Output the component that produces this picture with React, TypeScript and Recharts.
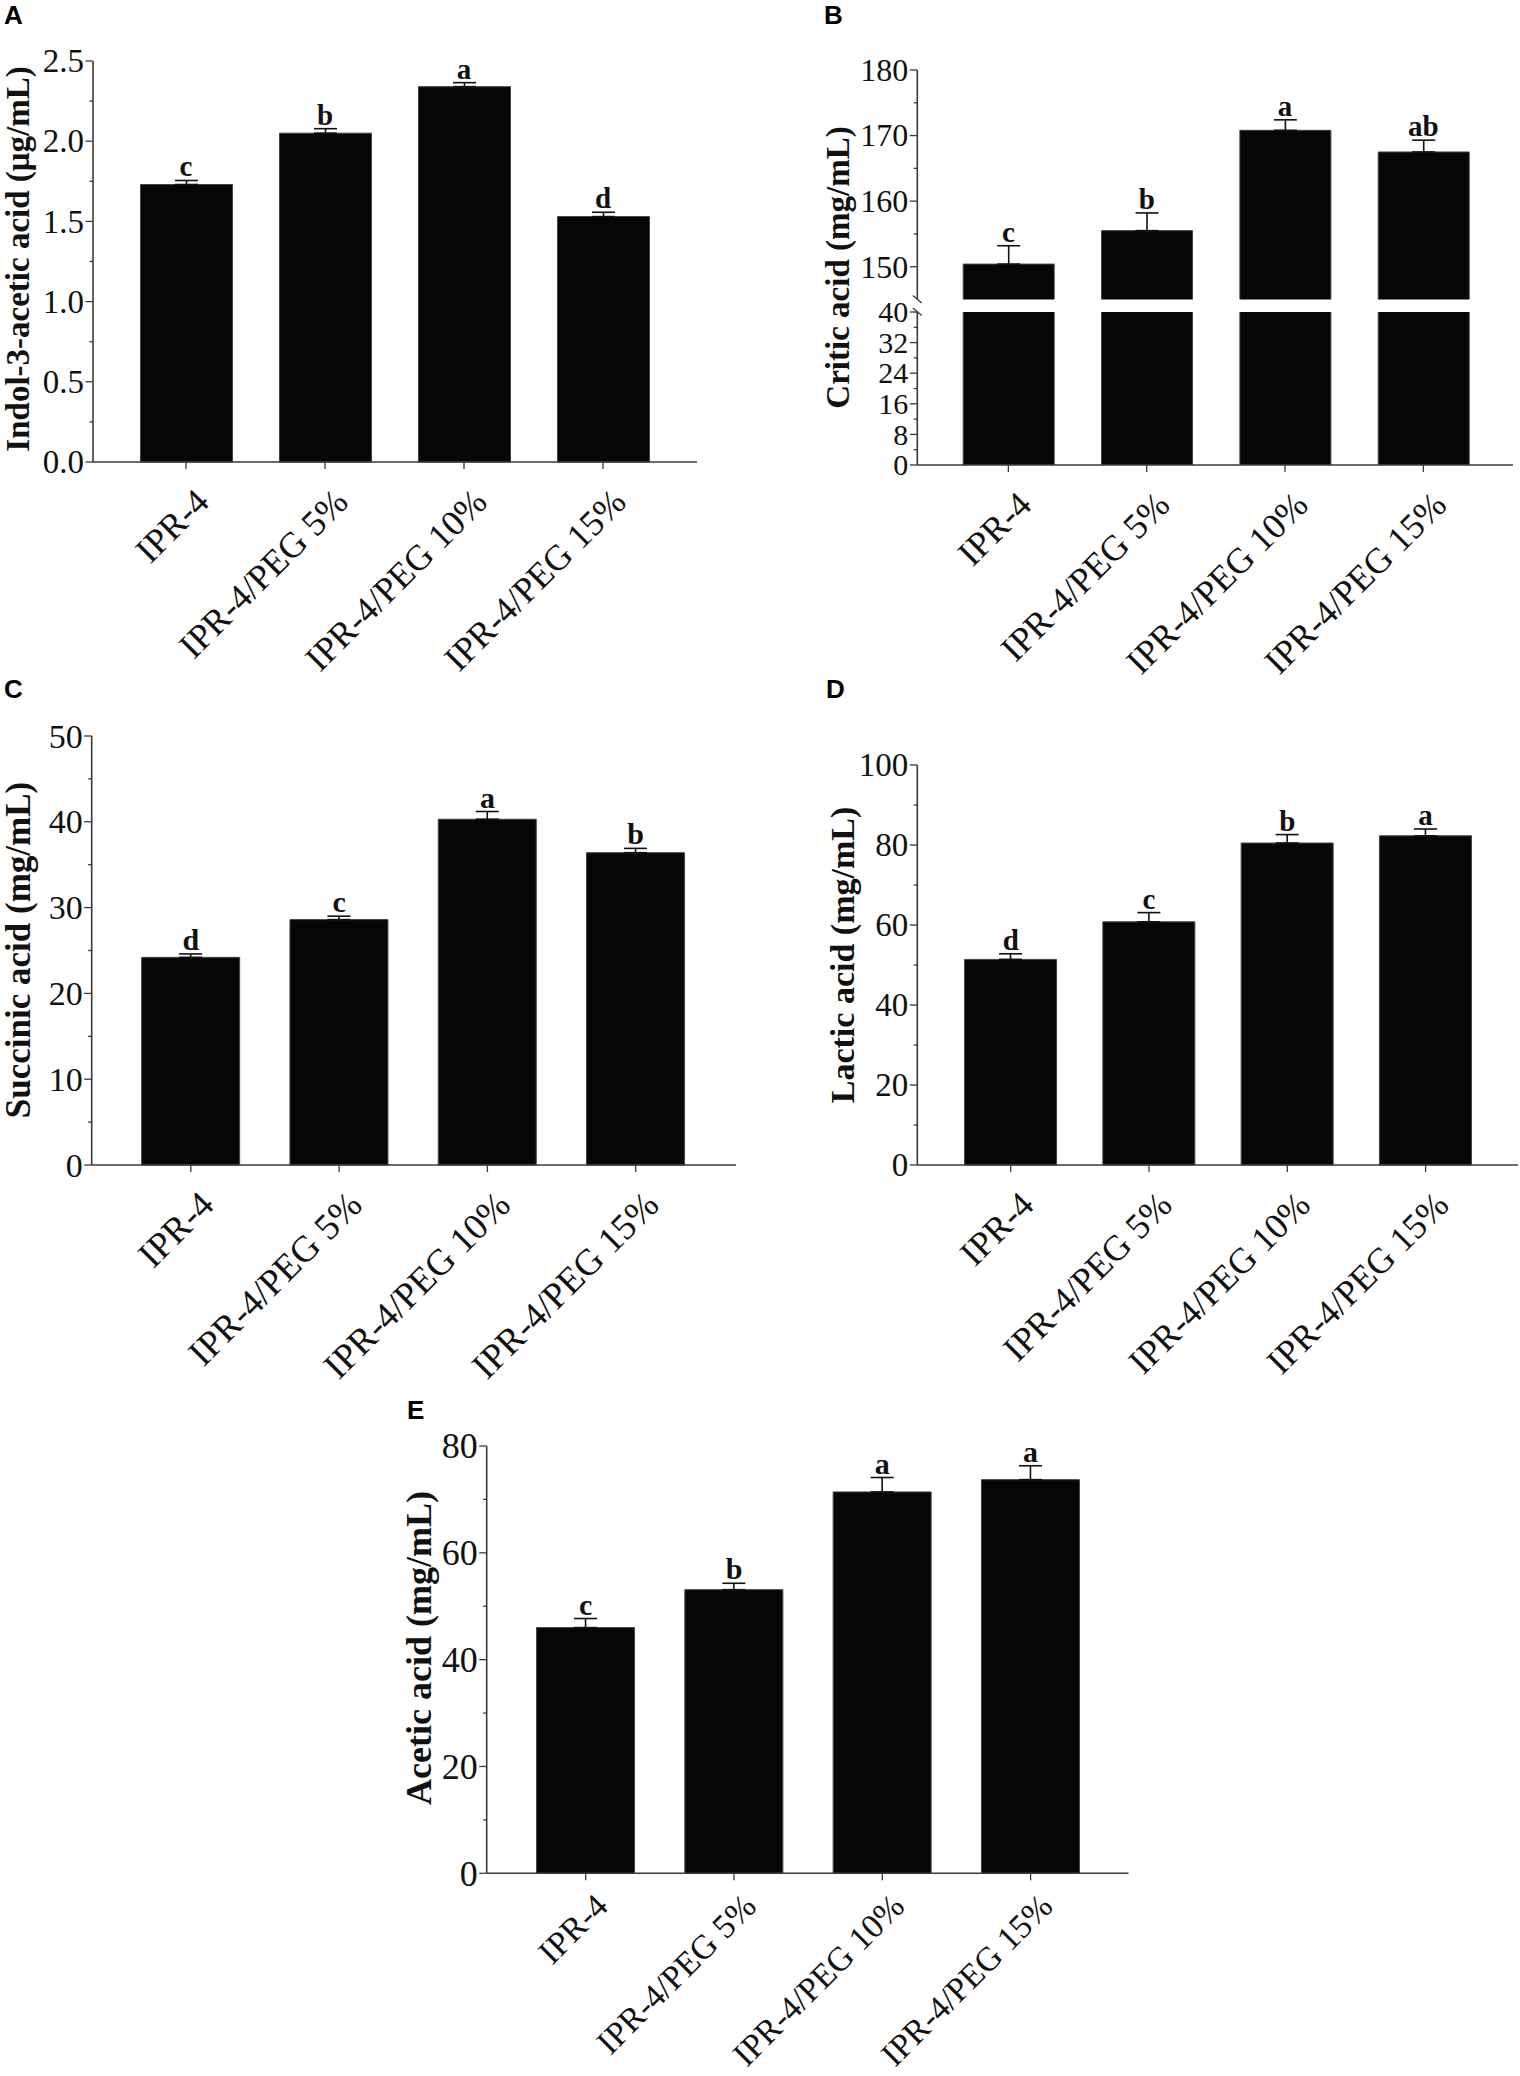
import React from 'react';
import { ComposedChart, Bar, XAxis, YAxis, ErrorBar, Line, LabelList } from 'recharts';

// ---------- data ----------
const categories = ['IPR-4', 'IPR-4/PEG 5%', 'IPR-4/PEG 10%', 'IPR-4/PEG 15%'];

const iaaValues = [1.73, 2.05, 2.34, 1.53];
const iaaErrors = [0.025, 0.028, 0.025, 0.027];
const iaaLetters = ['c', 'b', 'a', 'd'];
const iaaMajorTicks = [0, 0.5, 1.0, 1.5, 2.0, 2.5];
const iaaMinorTicks = [0.25, 0.75, 1.25, 1.75, 2.25];

const citricValues = [150.4, 155.5, 170.8, 167.5];
const citricErrors = [2.8, 2.7, 1.6, 1.8];
const citricLetters = ['c', 'b', 'a', 'ab'];
const citricUpperMajorTicks = [150, 160, 170, 180];
const citricUpperMinorTicks = [155, 165, 175];
const citricLowerMajorTicks = [0, 8, 16, 24, 32, 40];
const citricLowerMinorTicks = [4, 12, 20, 28, 36];

const succinicValues = [24.2, 28.6, 40.3, 36.4];
const succinicErrors = [0.4, 0.4, 0.9, 0.5];
const succinicLetters = ['d', 'c', 'a', 'b'];
const succinicMajorTicks = [0, 10, 20, 30, 40, 50];
const succinicMinorTicks = [5, 15, 25, 35, 45];

const lacticValues = [51.4, 60.8, 80.5, 82.3];
const lacticErrors = [1.4, 2.3, 2.1, 1.7];
const lacticLetters = ['d', 'c', 'b', 'a'];
const lacticMajorTicks = [0, 20, 40, 60, 80, 100];
const lacticMinorTicks = [10, 30, 50, 70, 90];

const aceticValues = [46.0, 53.1, 71.4, 73.7];
const aceticErrors = [1.7, 1.2, 2.7, 2.6];
const aceticLetters = ['c', 'b', 'a', 'a'];
const aceticMajorTicks = [0, 20, 40, 60, 80];
const aceticMinorTicks = [10, 30, 50, 70];

// ---------- style ----------
const SERIF = '"Liberation Serif", "Times New Roman", serif';
const SANS = '"Liberation Sans", Arial, sans-serif';
const AXIS = '#3a3a3a';
const BAR_FILL = '#050608';
const BAR_STROKE = '#444444';
const TEXT = '#111111';

type Row = { name: string; value: number; err: [number, number]; top: number; sig: string };

function buildRows(values: number[], errors: number[], letters: string[]): Row[] {
  return categories.map((name, i) => ({
    name,
    value: values[i],
    err: [0, errors[i]],
    top: values[i] + errors[i],
    sig: letters[i],
  }));
}

const iaaRows = buildRows(iaaValues, iaaErrors, iaaLetters);
const citricRows = buildRows(citricValues, citricErrors, citricLetters);
const succinicRows = buildRows(succinicValues, succinicErrors, succinicLetters);
const lacticRows = buildRows(lacticValues, lacticErrors, lacticLetters);
const aceticRows = buildRows(aceticValues, aceticErrors, aceticLetters);

type PanelSpec = {
  left: number;
  top: number;
  height?: number;
  xAxisH?: number;
  axisX: number;
  plotTop: number;
  plotBottom: number;
  plotRight: number;
  domain: [number, number];
  majors: number[];
  minors: number[];
  breaks?: number[];
  fmt: (v: number) => string;
  rows: Row[];
  padL: number;
  padR: number;
  barSize: number;
  tickFont: number;
  xFont: number;
  xdx?: number;
  xdy?: number;
  letterFont?: number;
  showXAxis: boolean;
  showErr: boolean;
  overflow: boolean;
  title?: string;
  titleX?: number;
  titleY?: number;
  titleFont?: number;
};

const AxisTitle = (props: any) => {
  const { tx, ty, text, font } = props;
  return (
    <text
      x={tx}
      y={ty}
      dy="0.35em"
      textAnchor="middle"
      transform={`rotate(-90 ${tx} ${ty})`}
      fontFamily={SERIF}
      fontWeight="bold"
      fontSize={font}
      fill={TEXT}
    >
      {text}
    </text>
  );
};

function BarPanel(p: PanelSpec) {
  const chartW = p.plotRight - p.left + 4;
  const innerTop = p.plotTop - p.top;
  const plotH = p.plotBottom - p.plotTop;
  const xH = p.showXAxis ? p.xAxisH ?? 230 : 0;
  const chartH = p.height ?? innerTop + plotH + xH;
  const marginBottom = chartH - innerTop - plotH - xH;
  const breaks = p.breaks ?? [];
  const ticks = Array.from(new Set([...p.majors, ...p.minors, ...breaks])).sort((a, b) => a - b);
  const xdx = p.xdx ?? 25;
  const xdy = p.xdy ?? 42;

  const yTick = (props: any) => {
    const { x, y, payload } = props;
    const v = payload.value;
    const isMajor = p.majors.includes(v);
    const isMinor = p.minors.includes(v);
    const isBreak = breaks.includes(v);
    return (
      <g>
        {(isMajor || isMinor) && (
          <line x1={x} x2={x - (isMajor ? 7.5 : 3.5)} y1={y} y2={y} stroke={AXIS} strokeWidth={1.3} />
        )}
        {isBreak && (
          <line x1={x - 4.5} y1={y - 4} x2={x + 4.5} y2={y + 3.5} stroke={AXIS} strokeWidth={1.3} />
        )}
        {isMajor && (
          <text x={x - 9} y={y} dy="0.34em" textAnchor="end" fontFamily={SERIF} fontSize={p.tickFont} fill={TEXT}>
            {p.fmt(v)}
          </text>
        )}
      </g>
    );
  };

  const xTick = (props: any) => {
    const { x, y, payload } = props;
    const ax = x + xdx;
    const ay = y + xdy;
    return (
      <g>
        <line x1={x} x2={x} y1={y} y2={y + 7} stroke={AXIS} strokeWidth={1.3} />
        <text
          x={ax}
          y={ay}
          textAnchor="end"
          transform={`rotate(-45 ${ax} ${ay})`}
          fontFamily={SERIF}
          fontSize={p.xFont}
          fill={TEXT}
        >
          {payload.value}
        </text>
      </g>
    );
  };

  return (
    <div style={{ position: 'absolute', left: p.left, top: p.top }}>
      <ComposedChart
        width={chartW}
        height={chartH}
        data={p.rows}
        margin={{ top: innerTop, right: 4, bottom: marginBottom, left: 0 }}
      >
        <XAxis
          dataKey="name"
          type="category"
          hide={!p.showXAxis}
          padding={{ left: p.padL, right: p.padR }}
          height={p.showXAxis ? xH : undefined}
          axisLine={{ stroke: AXIS, strokeWidth: 1.6 }}
          tickLine={false}
          tickSize={0}
          tickMargin={0}
          interval={0}
          tick={xTick}
        />
        <YAxis
          type="number"
          domain={p.domain}
          allowDataOverflow={p.overflow}
          ticks={ticks}
          interval={0}
          width={p.axisX - p.left}
          axisLine={{ stroke: AXIS, strokeWidth: 1.6 }}
          tickLine={false}
          tickSize={0}
          tickMargin={0}
          tick={yTick}
          label={
            p.title ? (
              <AxisTitle tx={(p.titleX ?? 0) - p.left} ty={(p.titleY ?? 0) - p.top} text={p.title} font={p.titleFont} />
            ) : undefined
          }
        />
        <Bar dataKey="value" barSize={p.barSize} fill={BAR_FILL} stroke={BAR_STROKE} strokeWidth={1} isAnimationActive={false}>
          {p.showErr && <ErrorBar dataKey="err" width={11.5} stroke={TEXT} strokeWidth={1.6} direction="y" />}
        </Bar>
        {p.showErr && (
          <Line
            dataKey="top"
            stroke="none"
            dot={false}
            activeDot={false}
            legendType="none"
            isAnimationActive={false}
          >
            <LabelList
              dataKey="sig"
              position="top"
              offset={4}
              fill={TEXT}
              fontFamily={SERIF}
              fontWeight="bold"
              fontSize={p.letterFont ?? 29}
            />
          </Line>
        )}
      </ComposedChart>
    </div>
  );
}

const panelLetters = [
  { t: 'A', x: 4, y: 24 },
  { t: 'B', x: 824, y: 24 },
  { t: 'C', x: 4, y: 698 },
  { t: 'D', x: 826, y: 698 },
  { t: 'E', x: 407, y: 1419 },
];

export default function App() {
  return (
    <div
      style={{
        position: 'absolute',
        left: 0,
        top: 0,
        width: 1520,
        height: 2076,
        overflow: 'hidden',
        background: '#ffffff',
      }}
    >
      {/* A */}
      <BarPanel
        left={0}
        top={20}
        axisX={93}
        plotTop={61}
        plotBottom={462}
        plotRight={697}
        domain={[0, 2.5]}
        majors={iaaMajorTicks}
        minors={iaaMinorTicks}
        fmt={(v) => v.toFixed(1)}
        rows={iaaRows}
        padL={23.5}
        padR={24.5}
        barSize={92}
        tickFont={33}
        xFont={36}
        showXAxis
        showErr
        overflow={false}
        title="Indol-3-acetic acid (μg/mL)"
        titleX={17}
        titleY={259}
        titleFont={33}
      />
      {/* B lower segment */}
      <BarPanel
        left={760}
        top={290}
        axisX={917.3}
        plotTop={312}
        plotBottom={465}
        plotRight={1513}
        domain={[0, 40]}
        majors={citricLowerMajorTicks}
        minors={citricLowerMinorTicks}
        breaks={[40]}
        fmt={(v) => String(v)}
        rows={citricRows}
        padL={21.9}
        padR={20.45}
        barSize={91}
        tickFont={30}
        xFont={36}
        showXAxis
        showErr={false}
        overflow
      />
      {/* B upper segment */}
      <BarPanel
        left={760}
        top={40}
        height={440}
        axisX={917.3}
        plotTop={70}
        plotBottom={299.5}
        plotRight={1513}
        domain={[145, 180]}
        majors={citricUpperMajorTicks}
        minors={citricUpperMinorTicks}
        breaks={[145]}
        fmt={(v) => String(v)}
        rows={citricRows}
        padL={21.9}
        padR={20.45}
        barSize={91}
        tickFont={32}
        xFont={36}
        showXAxis={false}
        showErr
        overflow
        title="Critic acid (mg/mL)"
        titleX={837}
        titleY={267.5}
        titleFont={33}
      />
      {/* C */}
      <BarPanel
        left={0}
        top={700}
        axisX={91.7}
        plotTop={736}
        plotBottom={1165}
        plotRight={736}
        domain={[0, 50]}
        majors={succinicMajorTicks}
        minors={succinicMinorTicks}
        fmt={(v) => String(v)}
        rows={succinicRows}
        padL={24.95}
        padR={26.15}
        barSize={98}
        tickFont={34}
        xFont={37}
        letterFont={30}
        showXAxis
        showErr
        overflow={false}
        title="Succinic acid (mg/mL)"
        titleX={18}
        titleY={950}
        titleFont={35}
      />
      {/* D */}
      <BarPanel
        left={760}
        top={730}
        axisX={917.3}
        plotTop={765}
        plotBottom={1165}
        plotRight={1518}
        domain={[0, 100]}
        majors={lacticMajorTicks}
        minors={lacticMinorTicks}
        fmt={(v) => String(v)}
        rows={lacticRows}
        padL={24.25}
        padR={23.25}
        barSize={92}
        tickFont={33}
        xFont={36}
        showXAxis
        showErr
        overflow={false}
        title="Lactic acid (mg/mL)"
        titleX={842}
        titleY={955}
        titleFont={34}
      />
      {/* E */}
      <BarPanel
        left={330}
        top={1410}
        xAxisH={202.7}
        axisX={486.7}
        plotTop={1446}
        plotBottom={1873.3}
        plotRight={1128.5}
        domain={[0, 80]}
        majors={aceticMajorTicks}
        minors={aceticMinorTicks}
        fmt={(v) => String(v)}
        rows={aceticRows}
        padL={24.85}
        padR={23.75}
        barSize={98}
        tickFont={36}
        xFont={34}
        xdx={24}
        xdy={35}
        letterFont={30}
        showXAxis
        showErr
        overflow={false}
        title="Acetic acid (mg/mL)"
        titleX={418}
        titleY={1648}
        titleFont={36}
      />
      <svg
        width={1520}
        height={2076}
        style={{ position: 'absolute', left: 0, top: 0, pointerEvents: 'none' }}
      >
        {panelLetters.map((l) => (
          <text key={l.t} x={l.x} y={l.y} fontFamily={SANS} fontWeight="bold" fontSize={26} fill="#000">
            {l.t}
          </text>
        ))}
      </svg>
    </div>
  );
}
